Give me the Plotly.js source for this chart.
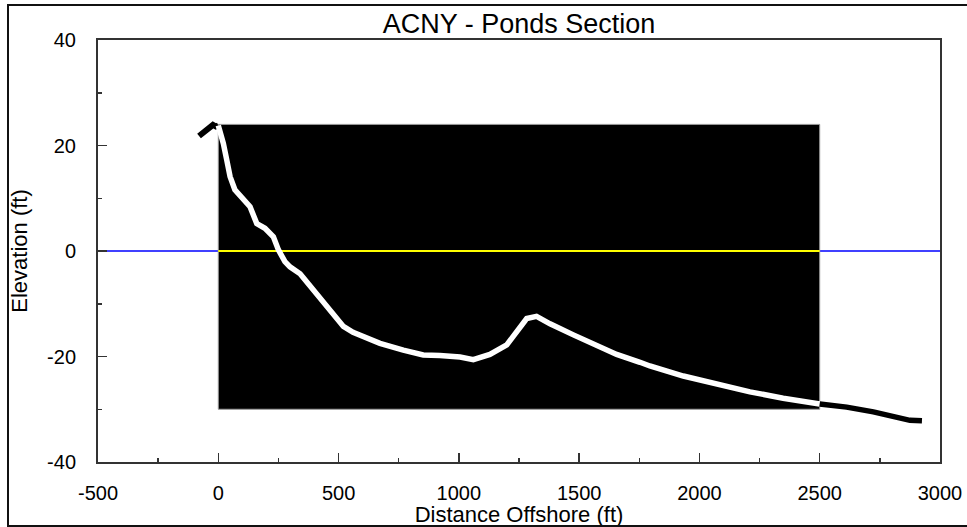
<!DOCTYPE html>
<html>
<head>
<meta charset="utf-8">
<script src="https://cdn.plot.ly/plotly-3.0.1.min.js"></script>
<style>
  html, body { margin: 0; padding: 0; background: #fff; }
  #wrap { position: relative; width: 967px; height: 527px; overflow: hidden; }
  #chart { position: absolute; left: 0; top: 0; width: 967px; height: 527px; }
  #frame { position: absolute; left: 7px; top: 4px; width: 980px; height: 519px;
           border: 2px solid #111; pointer-events: none; }
</style>
</head>
<body>
<div id="wrap"><div id="chart"></div><div id="frame"></div></div>
<script>
// Profile (distance offshore ft, elevation ft)
const profileX = [-80, -65, -50, -35, -22, -10, 0, 7, 21, 35, 49, 69, 104, 132, 160, 194, 229, 250, 277, 298, 340, 370, 400, 430, 464, 490, 520, 560, 603, 672, 769, 852, 921, 1005, 1060, 1129, 1199, 1240, 1282, 1323, 1379, 1476, 1545, 1656, 1753, 1794, 1933, 2071, 2210, 2348, 2487, 2500, 2556, 2612, 2723, 2820, 2875, 2925];
const profileY = [21.8, 22.4, 23.0, 23.4, 23.9, 23.6, 23.8, 22.9, 20.4, 17.3, 14.1, 11.6, 10.0, 8.4, 5.2, 4.3, 2.7, 0.2, -2.0, -3.0, -4.3, -6.0, -7.8, -9.6, -11.2, -12.9, -14.3, -15.4, -16.2, -17.5, -18.8, -19.7, -19.8, -20.1, -20.6, -19.6, -17.8, -15.2, -12.8, -12.4, -13.8, -15.9, -17.3, -19.6, -21.1, -21.8, -23.7, -25.3, -26.7, -27.9, -28.9, -29.0, -29.2, -29.6, -30.5, -31.4, -32.1, -32.2];

// Black section box (x range, y range) and sea level
const boxX = [0, 2500];
const boxY = [-30, 24];
const seaLevel = 0;
const axisX = [-500, 3000];
const axisY = [-40, 40];
const xTickVals = [-500, 0, 500, 1000, 1500, 2000, 2500, 3000];
const xTickText = ['-500', '0', '500', '1000', '1500', '2000', '2500', '3000'];
const yTickVals = [-40, -20, 0, 20, 40];
const yTickText = ['-40', '-20', '0', '20', '40'];

function segment(lo, hi) {
  const xs = [], ys = [];
  profileX.forEach((x, i) => { if (x >= lo && x <= hi) { xs.push(x); ys.push(profileY[i]); } });
  return {x: xs, y: ys};
}
const left = segment(-Infinity, boxX[0]);
const mid = segment(boxX[0], boxX[1]);
const right = segment(boxX[1], Infinity);

const traces = [
  {x: boxX, y: [seaLevel, seaLevel], mode: 'lines', line: {color: '#ffff00', width: 2}, hoverinfo: 'skip'},
  {x: left.x, y: left.y, mode: 'lines', line: {color: '#000', width: 6}},
  {x: mid.x, y: mid.y, mode: 'lines', line: {color: '#fff', width: 5.5}},
  {x: right.x, y: right.y, mode: 'lines', line: {color: '#000', width: 5.5}}
];

const font = 'Liberation Sans, Arial, sans-serif';
const layout = {
  width: 967, height: 527,
  margin: {l: 98, r: 27, t: 40, b: 65},
  paper_bgcolor: '#fff', plot_bgcolor: '#fff',
  showlegend: false,
  font: {family: font, color: '#000', size: 20},
  title: {text: 'ACNY - Ponds Section', font: {family: font, size: 27, color: '#000'},
          x: 0.5, xref: 'paper', y: 1 - 24/527, yref: 'container', yanchor: 'middle'},
  xaxis: {
    range: axisX, tickvals: xTickVals, ticktext: xTickText,
    ticks: 'inside', ticklen: 9, tickwidth: 1.5, tickcolor: '#333',
    minor: {dtick: 250, ticks: 'inside', ticklen: 4, tickwidth: 1.5, tickcolor: '#333'},
    showgrid: false, zeroline: false,
    showline: true, linecolor: '#333', linewidth: 2, mirror: true,
    ticklabelstandoff: 12,
    tickfont: {size: 20},
    title: {text: 'Distance Offshore (ft)', font: {size: 22}, standoff: 1}
  },
  yaxis: {
    range: axisY, tickvals: yTickVals, ticktext: yTickText,
    ticks: 'inside', ticklen: 9, tickwidth: 1.5, tickcolor: '#333',
    minor: {dtick: 10, ticks: 'inside', ticklen: 4, tickwidth: 1.5, tickcolor: '#333'},
    showgrid: false, zeroline: false,
    showline: true, linecolor: '#333', linewidth: 2, mirror: true,
    ticklabelstandoff: 16,
    tickfont: {size: 20},
    title: {text: 'Elevation (ft)', font: {size: 22}, standoff: 13}
  },
  shapes: [
    {type: 'line', layer: 'below', xref: 'x', yref: 'y', x0: axisX[0], x1: axisX[1], y0: seaLevel, y1: seaLevel,
     line: {color: '#0000ff', width: 1.5}},
    {type: 'rect', layer: 'below', xref: 'x', yref: 'y', x0: boxX[0], x1: boxX[1], y0: boxY[0], y1: boxY[1],
     fillcolor: '#000', line: {color: '#999', width: 1}}
  ]
};

Plotly.newPlot('chart', traces, layout, {displayModeBar: false, staticPlot: true});
</script>
</body>
</html>
